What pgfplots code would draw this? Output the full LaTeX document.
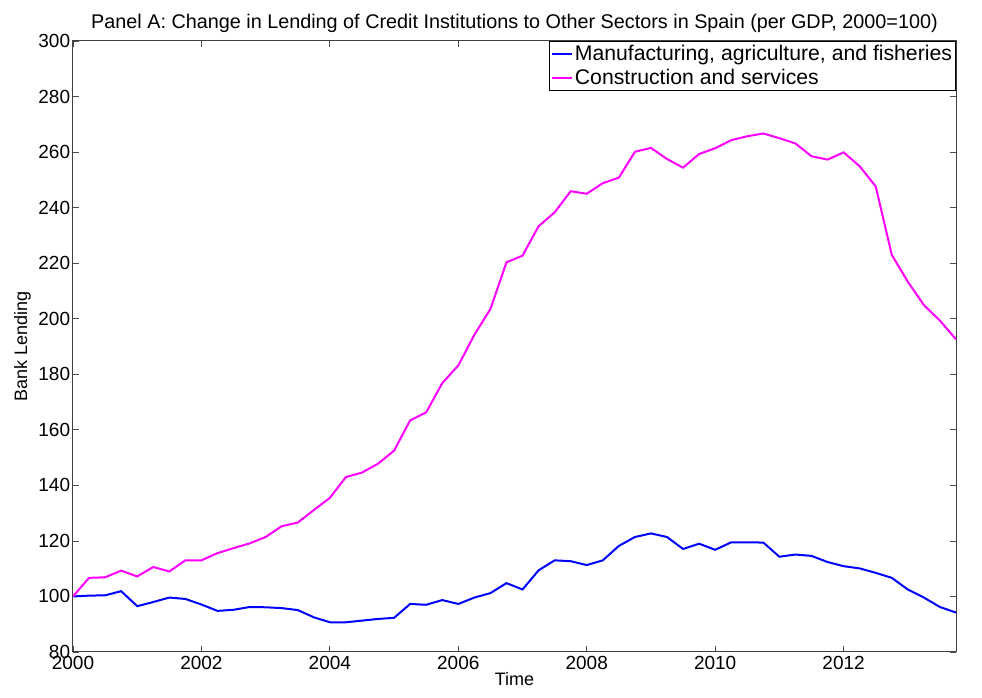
\documentclass[border=0pt]{standalone}
\usepackage{fontspec}
\setmainfont{Liberation Sans}
\usepackage{pgfplots}
\pgfplotsset{compat=1.18}
\usepackage{pgfplotstable}
\definecolor{mblue}{RGB}{0,0,255}
\definecolor{mmag}{RGB}{255,0,255}

\pgfplotstableread{
t        manu   cons
2000.00  100.0  100.0
2000.25  100.3  106.7
2000.50  100.4  106.9
2000.75  101.9  109.3
2001.00   96.5  107.2
2001.25   98.0  110.6
2001.50   99.6  109.0
2001.75   99.1  113.0
2002.00   97.1  113.0
2002.25   94.8  115.6
2002.50   95.2  117.4
2002.75   96.2  119.1
2003.00   96.1  121.4
2003.25   95.8  125.3
2003.50   95.1  126.6
2003.75   92.5  131.1
2004.00   90.7  135.5
2004.25   90.7  143.0
2004.50   91.3  144.6
2004.75   91.9  147.8
2005.00   92.3  152.5
2005.25   97.3  163.4
2005.50   97.0  166.3
2005.75   98.7  176.8
2006.00   97.3  183.2
2006.25   99.6  194.2
2006.50  101.2  203.5
2006.75  104.8  220.3
2007.00  102.5  222.7
2007.25  109.4  233.3
2007.50  113.0  238.3
2007.75  112.7  245.9
2008.00  111.3  245.0
2008.25  113.0  248.8
2008.50  118.2  250.8
2008.75  121.4  260.1
2009.00  122.7  261.5
2009.25  121.4  257.5
2009.50  117.1  254.4
2009.75  119.0  259.3
2010.00  116.8  261.4
2010.25  119.5  264.3
2010.50  119.5  265.7
2010.75  119.4  266.7
2011.00  114.3  265.0
2011.25  115.1  263.1
2011.50  114.6  258.5
2011.75  112.4  257.3
2012.00  110.9  259.9
2012.25  110.1  254.9
2012.50  108.5  247.6
2012.75  106.7  223.0
2013.00  102.5  213.3
2013.25   99.6  204.9
2013.50   96.2  199.3
2013.75   94.2  192.6
}\lending

\begin{document}
\fontsize{17}{20}\selectfont
\begin{tikzpicture}
\begin{axis}[
  scale only axis,
  width=883pt, height=611pt,
  xmin=2000, xmax=2013.75,
  ymin=80, ymax=300,
  xtick={2000,2002,2004,2006,2008,2010,2012},
  ytick={80,100,120,140,160,180,200,220,240,260,280,300},
  /pgf/number format/assume math mode=true,
  x tick label style={/pgf/number format/1000 sep={}, font=\fontsize{19}{20}\selectfont, yshift=2pt},
  y tick label style={font=\fontsize{19}{20}\selectfont, xshift=3pt},
  tick align=inside,
  major tick length=6pt,
  tick style={black!70, line width=0.8pt},
  axis line style={black!75, line width=1pt},
  xtick pos=both, ytick pos=both,
  title={Panel A: Change in Lending of Credit Institutions to Other Sectors in Spain (per GDP, 2000=100)},
  title style={font=\fontsize{19.8}{22}\selectfont, yshift=-3pt},
  xlabel={Time},
  ylabel={Bank Lending},
  xlabel style={font=\fontsize{18}{20}\selectfont, yshift=8pt},
  ylabel style={font=\fontsize{18}{20}\selectfont, yshift=-4pt},
  legend style={at={(1,1)}, anchor=north east, draw=black, line width=1pt,
    font=\fontsize{21.2}{23}\selectfont, inner sep=1.5pt, row sep=2pt,
    cells={anchor=west}},
  legend image code/.code={\draw[#1] (0pt,0pt) -- (20pt,0pt);},
]
\addplot[mblue, line width=2pt] table[x=t, y=manu] {\lending};
\addlegendentry{Manufacturing, agriculture, and fisheries}
\addplot[mmag, line width=2pt] table[x=t, y=cons] {\lending};
\addlegendentry{Construction and services}
\end{axis}
\path (current axis.south west) ++(-73pt,-46pt) coordinate (bl);
\path (current axis.north east) ++(26pt,41pt) coordinate (tr);
\path (bl) rectangle (tr);
\end{tikzpicture}
\end{document}
